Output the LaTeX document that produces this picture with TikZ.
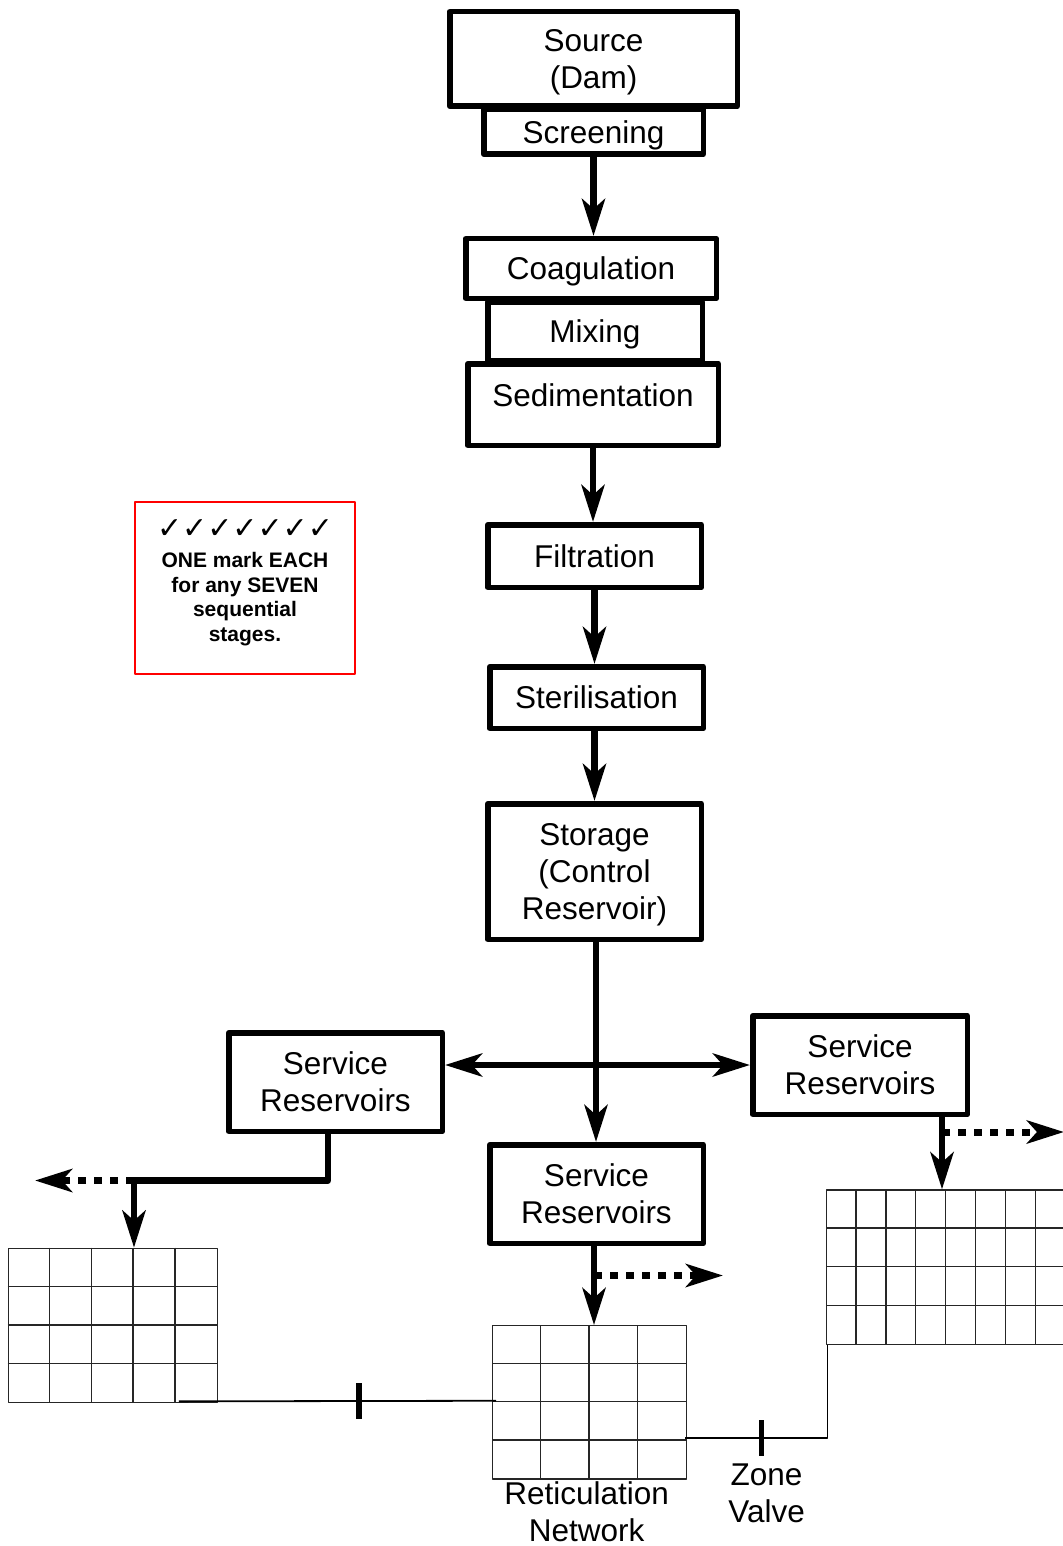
\documentclass[tikz,border=0pt]{standalone}
\usepackage{fontspec}
\setmainfont{Liberation Sans}
\newfontfamily\tickfont{DejaVu Sans}
\usepackage{tikz}
\usetikzlibrary{arrows.meta, positioning}

\begin{document}
\begin{tikzpicture}[->, >={Stealth[length=37pt, width=23pt, inset=10pt]}, x=1pt, y=-1pt, line join=round]
	\tikzstyle{stage}=[rectangle, draw, line width=5.5pt, align=center, inner sep=0pt, text depth=0pt, font=\fontsize{31.5}{37}\selectfont]
	\tikzstyle{flow}=[line width=6.5pt]
	\tikzstyle{spill}=[line width=7pt, dash pattern=on 8pt off 8pt]
	\tikzstyle{net}=[rectangle, draw=black!85, line width=1.3pt, inner sep=0pt]
	\tikzstyle{cell}=[-, draw=black!85, line width=1.3pt]
	\tikzstyle{pipe}=[-, line width=1.8pt]
	\tikzstyle{valve}=[rectangle, fill, inner sep=0pt, minimum width=5.5pt, minimum height=36pt]
	\tikzstyle{lbl}=[inner sep=0pt, align=center, font=\fontsize{31.5}{37}\selectfont]
	\tikzstyle{note}=[rectangle, draw=red, line width=1.6pt, inner sep=0pt, align=center, minimum width=220pt, minimum height=172pt, text depth=15pt, font=\bfseries\fontsize{21}{24.5}\selectfont]

	\useasboundingbox (0,0) rectangle (1062,1546);

	% treatment column
	\node[stage, minimum width=219.5pt, minimum height=44.5pt] (scr) at (593.5,132) {Screening};
	\node[stage, minimum width=287.5pt, minimum height=94.5pt] (src) at (593.5,59) {Source\\(Dam)};
	\node[stage, minimum width=250.5pt, minimum height=59.5pt] (coag) at (591,268.5) {Coagulation};
	\node[stage, minimum width=214.5pt, minimum height=58.5pt] (mix) at (595,331) {Mixing};
	\node[stage, minimum width=250.5pt, minimum height=81.5pt, text depth=19pt] (sed) at (593,404.5) {Sedimentation};
	\node[stage, minimum width=213.5pt, minimum height=62.5pt] (filt) at (594.5,556) {Filtration};
	\node[stage, minimum width=213.5pt, minimum height=61.5pt] (ster) at (596.5,697.5) {Sterilisation};
	\node[stage, minimum width=213.5pt, minimum height=135.5pt] (stor) at (594.5,871.5) {Storage\\(Control\\Reservoir)};

	% service reservoirs
	\node[stage, minimum width=213.5pt, minimum height=98.5pt] (svcL) at (335.5,1082) {Service\\Reservoirs};
	\node[stage, minimum width=214.5pt, minimum height=98.5pt] (svcR) at (860,1065) {Service\\Reservoirs};
	\node[stage, minimum width=213.5pt, minimum height=98.5pt] (svcM) at (596.5,1194) {Service\\Reservoirs};

	% marking note
	\node[note] (marks) at (245,588) {{\tickfont\bfseries\fontsize{30}{30}\selectfont ✓✓✓✓✓✓✓}\\[5pt]ONE mark EACH\\for any SEVEN\\sequential\\stages.};

	% reticulation grids
	\node[net, minimum width=209pt, minimum height=154.4pt] (gridL) at (112.8,1325.5) {};
	\node[net, minimum width=194pt, minimum height=153.3pt] (gridM) at (589.7,1402.35) {};
	\node[net, minimum width=239.3pt, minimum height=154.3pt] (gridR) at (946.35,1267.15) {};
	\foreach \k in {1,...,4} \draw[cell] ([xshift=\k*41.8pt]gridL.north west) -- ([xshift=\k*41.8pt]gridL.south west);
	\foreach \k in {1,2,3} \draw[cell] ([yshift=-\k*38.6pt]gridL.north west) -- ([yshift=-\k*38.6pt]gridL.north east);
	\foreach \k in {1,2,3} \draw[cell] ([xshift=\k*48.5pt]gridM.north west) -- ([xshift=\k*48.5pt]gridM.south west);
	\foreach \k in {1,2,3} \draw[cell] ([yshift=-\k*38.33pt]gridM.north west) -- ([yshift=-\k*38.33pt]gridM.north east);
	\foreach \k in {1,...,7} \draw[cell] ([xshift=\k*29.9pt]gridR.north west) -- ([xshift=\k*29.9pt]gridR.south west);
	\foreach \k in {1,2,3} \draw[cell] ([yshift=-\k*38.6pt]gridR.north west) -- ([yshift=-\k*38.6pt]gridR.north east);

	% main flow
	\draw[flow] (scr.south) -- (scr.south |- coag.north);
	\draw[flow] (sed.south) -- (sed.south |- filt.north);
	\draw[flow] (filt.south) -- (filt.south |- ster.north);
	\draw[flow] (stor.north |- ster.south) -- (stor.north);

	\coordinate (hub) at (596,1065);
	\draw[flow] (stor.south -| hub) -- (svcM.north -| hub);
	\draw[flow, <->] (svcL.east |- hub) -- (svcR.west |- hub);

	% outlets to the networks
	\coordinate (jL) at (134,1180.5);
	\coordinate (outL) at (35,1180.5);
	\draw[flow] ([xshift=-7.5pt]svcL.south) |- (jL) -- (jL |- gridL.north);
	\draw[spill] (jL) -- (outL);

	\coordinate (jM) at (594,1275.5);
	\coordinate (outM) at (723,1275.5);
	\draw[flow] (svcM.south -| jM) -- (gridM.north -| jM);
	\draw[spill] (jM) -- (outM);

	\coordinate (jR) at (942,1132);
	\coordinate (outR) at (1064,1132);
	\draw[flow] (svcR.south -| jR) -- (gridR.north -| jR);
	\draw[spill] (jR) -- (outR);

	% links between networks
	\draw[pipe] ([xshift=-39pt, yshift=2pt]gridL.south east) -- node[valve, pos=0.568] (gate) {} ([xshift=4pt, yshift=1.6pt]gridM.west);
	\draw[pipe] ([xshift=-2pt, yshift=-35.6pt]gridM.east) -| node[valve, pos=0.268] (zone) {} ([xshift=1.5pt]gridR.south west);

	\node[lbl, below=2pt of gridM, xshift=-3pt] (retic) {Reticulation\\Network};
	\node[lbl, below=7pt of zone, xshift=5pt] (zonetxt) {Zone\\Valve};
\end{tikzpicture}
\end{document}
